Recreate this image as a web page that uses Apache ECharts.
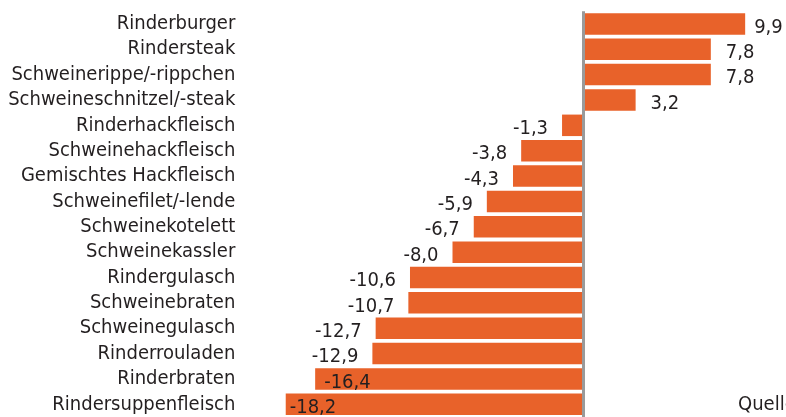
<!DOCTYPE html>
<html>
<head>
<meta charset="utf-8">
<script src="https://cdn.jsdelivr.net/npm/echarts@6/dist/echarts.min.js"></script>
<style>
html,body{margin:0;padding:0;background:#fff;}
#chart{width:786px;height:417px;}
</style>
</head>
<body>
<div id="chart"></div>
<script>
var categories = ['Rinderburger','Rindersteak','Schweinerippe/-rippchen','Schweineschnitzel/-steak','Rinderhackfleisch','Schweinehackfleisch','Gemischtes Hackfleisch','Schweinefilet/-lende','Schweinekotelett','Schweinekassler','Rindergulasch','Schweinebraten','Schweinegulasch','Rinderrouladen','Rinderbraten','Rindersuppenfleisch'];
var values = [9.9, 7.8, 7.8, 3.2, -1.3, -3.8, -4.3, -5.9, -6.7, -8.0, -10.6, -10.7, -12.7, -12.9, -16.4, -18.2];
var sourceText = 'Quelle';

var FONT = '"DejaVu Sans Condensed", "Liberation Sans"';
var FS = 20;
var TXT = '#231f20';
var insideItems = {14: 9, 15: 4};

var seriesData = values.map(function (v, i) {
  var item = { value: v };
  if (insideItems[i] !== undefined) {
    item.label = { position: 'insideLeft', distance: insideItems[i] };
  } else if (v < 0) {
    item.label = { position: 'left', distance: 14 };
  } else {
    item.label = { position: 'right', distance: i === 0 ? 9 : 15 };
  }
  return item;
});

var chart = echarts.init(document.getElementById('chart'), null, {renderer: 'canvas'});
chart.setOption({
  animation: false,
  backgroundColor: '#ffffff',
  grid: { left: 256.3, right: 6.5, top: 11.2, bottom: -2.7, containLabel: false },
  xAxis: {
    type: 'value', min: -20, max: 12,
    show: false,
    splitLine: { show: false }
  },
  yAxis: {
    type: 'category', data: categories, inverse: true,
    axisLine: { show: false }, axisTick: { show: false },
    axisLabel: { interval: 0, margin: 21, color: TXT, fontFamily: FONT, fontSize: FS, padding: [6, 0, 0, 0] }
  },
  series: [{
    type: 'bar',
    data: seriesData,
    barWidth: 21.5,
    itemStyle: { color: '#E8622A' },
    label: {
      show: true,
      color: TXT, fontFamily: FONT, fontSize: FS,
      offset: [0, 3.5],
      formatter: function (p) { return p.value.toFixed(1).replace('.', ','); }
    },
    markLine: {
      silent: true, symbol: 'none', animation: false,
      label: { show: false },
      lineStyle: { color: '#9a9a9a', width: 3, type: 'solid' },
      data: [{ xAxis: 0 }]
    }
  }],
  graphic: [{
    type: 'text', left: 738, top: 395,
    style: { text: sourceText, fill: TXT, font: FS + 'px ' + FONT }
  }]
});
</script>
</body>
</html>
